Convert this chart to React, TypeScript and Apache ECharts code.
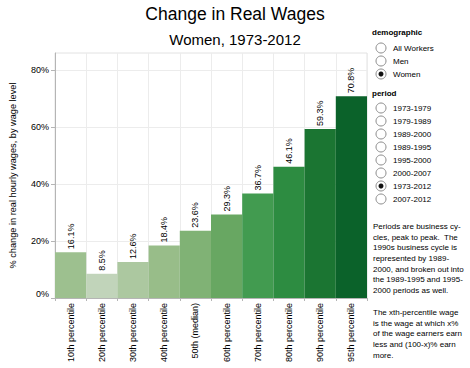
import React, { useEffect, useRef } from "react";
import * as echarts from "echarts";

const TITLE = "Change in Real Wages";
const SUBTITLE = "Women, 1973-2012";
const Y_NAME = "% change in real hourly wages, by wage level";

const categories = [
  "10th percentile",
  "20th percentile",
  "30th percentile",
  "40th percentile",
  "50th (median)",
  "60th percentile",
  "70th percentile",
  "80th percentile",
  "90th percentile",
  "95th percentile",
];
const values = [16.1, 8.5, 12.6, 18.4, 23.6, 29.3, 36.7, 46.1, 59.3, 70.8];
const yTicks = [0, 20, 40, 60, 80];

const palette = [
  "#9dc08f",
  "#c1d4ba",
  "#acc8a0",
  "#98bd89",
  "#80b275",
  "#68a762",
  "#429b50",
  "#2d8c41",
  "#1b7532",
  "#0b622a",
];

const demographicOptions = ["All Workers", "Men", "Women"];
const demographicSelected = "Women";
const periodOptions = [
  "1973-1979",
  "1979-1989",
  "1989-2000",
  "1989-1995",
  "1995-2000",
  "2000-2007",
  "1973-2012",
  "2007-2012",
];
const periodSelected = "1973-2012";

const note1 = [
  "Periods are business cy-",
  "cles, peak to peak.  The",
  "1990s business cycle is",
  "represented by 1989-",
  "2000, and broken out into",
  "the 1989-1995 and 1995-",
  "2000 periods as well.",
];
const note2 = [
  "The xth-percentile wage",
  "is the wage at which x%",
  "of the wage earners earn",
  "less and (100-x)% earn",
  "more.",
];

const FONT = "'Liberation Sans', Arial, sans-serif";

function radioGroup(title: string, opts: string[], sel: string, titleY: number, firstY: number) {
  const els: any[] = [
    {
      type: "text",
      x: 372,
      y: titleY,
      style: { text: title, font: `bold 8px ${FONT}`, fill: "#000", verticalAlign: "middle" },
    },
  ];
  opts.forEach((o, i) => {
    const cy = firstY + i * 13;
    els.push({
      type: "circle",
      shape: { cx: 381, cy, r: 5 },
      style: { fill: "#fff", stroke: "#8a8a8a", lineWidth: 1 },
    });
    if (o === sel) {
      els.push({
        type: "circle",
        shape: { cx: 381, cy, r: 2.5 },
        style: { fill: "#111" },
      });
    }
    els.push({
      type: "text",
      x: 393,
      y: cy,
      style: { text: o, font: `8px ${FONT}`, fill: "#000", verticalAlign: "middle" },
    });
  });
  return els;
}

export default function App() {
  const ref = useRef<HTMLDivElement>(null);
  useEffect(() => {
    if (!ref.current) return;
    const chart = echarts.init(ref.current, null, { renderer: "svg" });
    const graphics: any[] = [
      ...radioGroup("demographic", demographicOptions, demographicSelected, 32, 48),
      ...radioGroup("period", periodOptions, periodSelected, 93, 108),
      {
        type: "text",
        x: 373,
        y: 221,
        style: { text: note1.join("\n"), font: `8px ${FONT}`, fill: "#000", lineHeight: 10.7 },
      },
      {
        type: "text",
        x: 373,
        y: 307,
        style: { text: note2.join("\n"), font: `8px ${FONT}`, fill: "#000", lineHeight: 10.7 },
      },
    ];
    chart.setOption({
      animation: false,
      backgroundColor: "#fff",
      textStyle: { fontFamily: FONT },
      title: [
        {
          text: TITLE,
          left: "center",
          top: 0,
          textStyle: { fontSize: 17.5, fontWeight: "normal", color: "#000", fontFamily: FONT },
        },
        {
          text: SUBTITLE,
          left: "center",
          top: 27,
          textStyle: { fontSize: 15, fontWeight: "normal", color: "#000", fontFamily: FONT },
        },
      ],
      grid: {
        left: 49,
        top: 53,
        width: 318,
        height: 245,
        show: true,
        borderColor: "#e2e2e2",
        borderWidth: 1,
        backgroundColor: "#fff",
      },
      xAxis: {
        type: "category",
        data: categories,
        boundaryGap: true,
        axisLine: { show: true, lineStyle: { color: "#b5b5b5" } },
        axisTick: { show: true, interval: 0, length: 3, lineStyle: { color: "#b5b5b5" } },
        splitLine: { show: true, interval: 0, lineStyle: { color: "#ececec" } },
        axisLabel: {
          interval: 0,
          rotate: 90,
          fontSize: 9,
          color: "#000",
          margin: 5,
          fontFamily: FONT,
        },
      },
      yAxis: {
        type: "value",
        min: 0,
        max: 86,
        interval: 20,
        name: Y_NAME,
        nameLocation: "middle",
        nameGap: 38,
        nameTextStyle: { fontSize: 9.2, color: "#000", fontFamily: FONT },
        axisLine: { show: true, lineStyle: { color: "#b5b5b5" } },
        axisTick: { show: true, length: 4, customValues: yTicks, lineStyle: { color: "#b5b5b5" } },
        splitLine: { show: true, lineStyle: { color: "#ececec" } },
        axisLabel: {
          customValues: yTicks,
          formatter: (v: number) => `${v}%`,
          fontSize: 9,
          color: "#000",
          margin: 6,
          fontFamily: FONT,
          verticalAlignMinLabel: "bottom",
        },
      },
      series: [
        {
          type: "bar",
          data: values,
          barCategoryGap: 0,
          barWidth: "100%",
          itemStyle: {
            color: (p: any) => palette[p.dataIndex],
          },
          label: {
            show: true,
            position: "top",
            rotate: 90,
            align: "left",
            verticalAlign: "middle",
            distance: 3,
            fontSize: 9,
            color: "#000",
            fontFamily: FONT,
            formatter: (p: any) => `${Number(p.value).toFixed(1)}%`,
          },
        },
      ],
      graphic: graphics,
    });
    return () => chart.dispose();
  }, []);
  return (
    <div
      ref={ref}
      style={{ position: "absolute", left: 0, top: 0, width: 470, height: 368 }}
    />
  );
}
